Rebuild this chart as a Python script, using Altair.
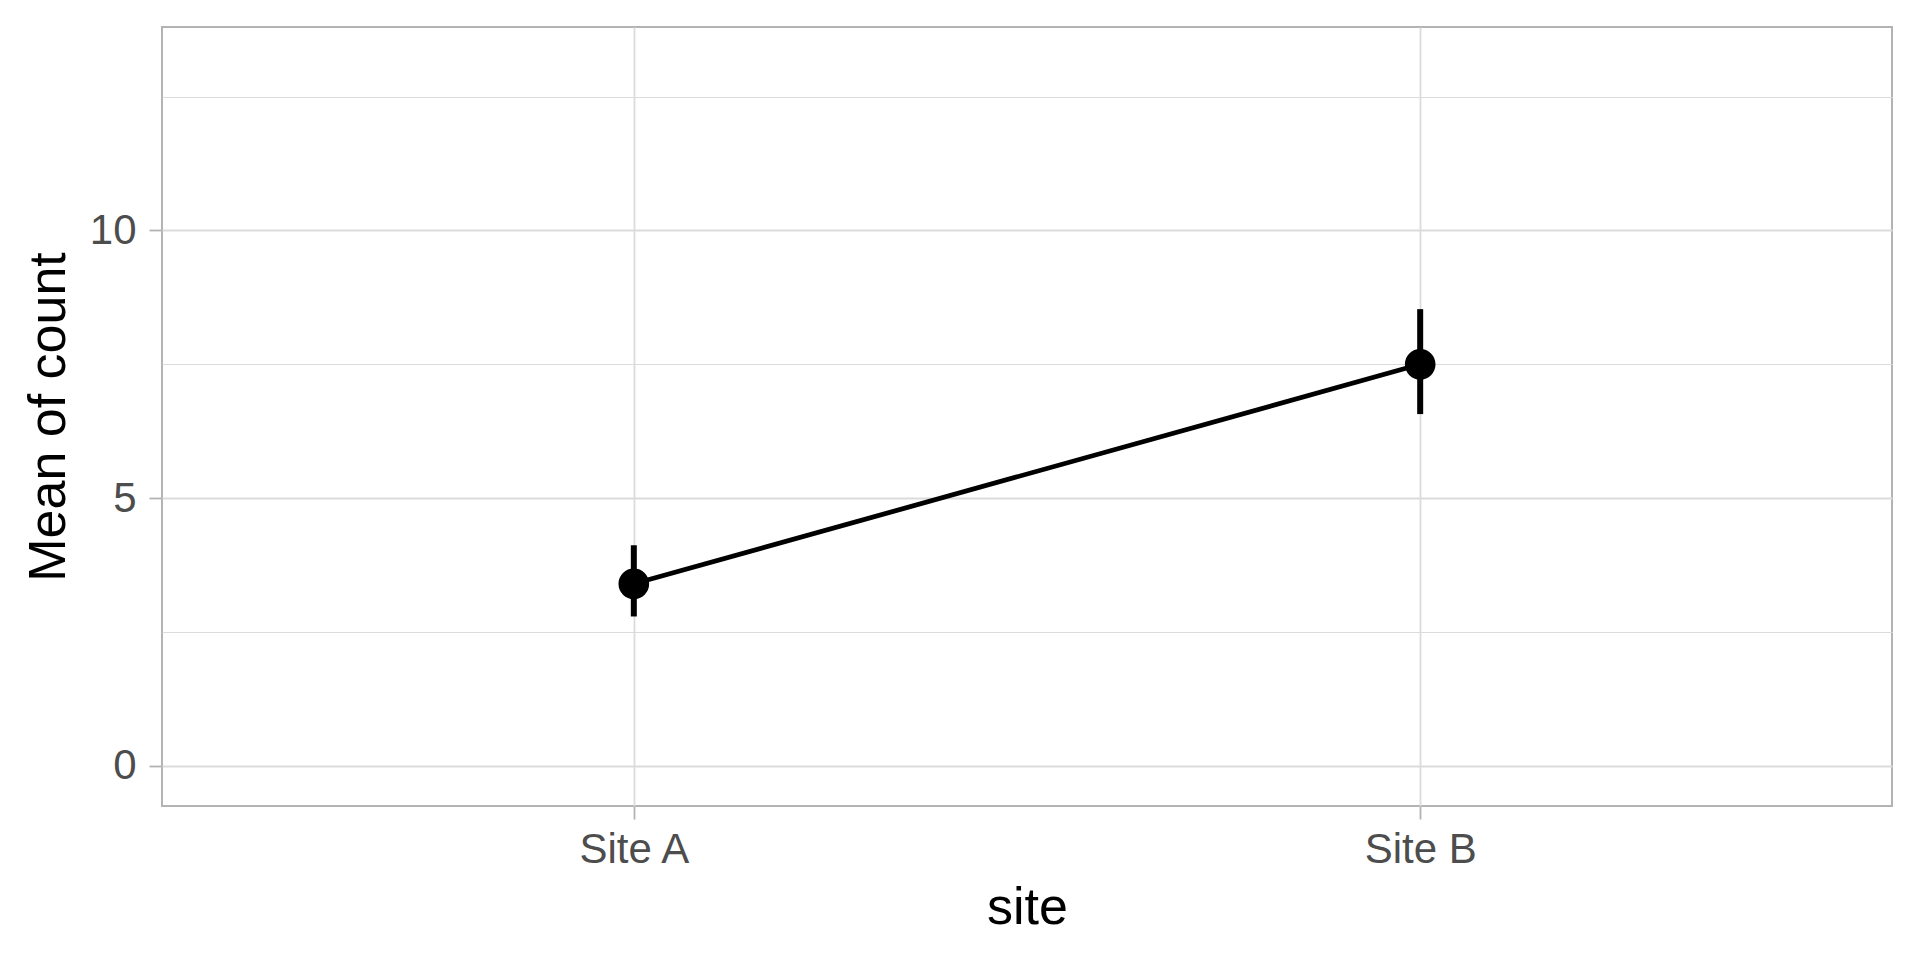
import altair as alt
import pandas as pd

# Data
sites = ["Site A", "Site B"]
means = [3.40, 7.50]
lower = [2.79, 6.57]
upper = [4.12, 8.53]
y_ticks = [0, 2.5, 5, 7.5, 10, 12.5]

df = pd.DataFrame({"site": sites, "mean": means, "lower": lower, "upper": upper})

FONT = "Liberation Sans"

x_enc = alt.X(
    "site:N",
    title="site",
    sort=sites,
    scale=alt.Scale(type="point", padding=0.6),
    axis=alt.Axis(
        labelAngle=0,
        labelFont=FONT,
        labelFontSize=42,
        labelColor="#4D4D4D",
        labelPadding=10,
        tickColor="#B3B3B3",
        tickWidth=1.8,
        tickSize=13,
        domain=False,
        grid=True,
        gridColor="#DBDBDB",
        gridWidth=1.8,
        titleFont=FONT,
        titleFontSize=52,
        titleFontWeight="normal",
        titleColor="#000000",
        titleBaseline="alphabetic",
        titleY=117,
    ),
)

y_scale = alt.Scale(domain=[-0.75, 13.8], nice=False, zero=False)
y_axis = alt.Axis(
    values=y_ticks,
    labelExpr="datum.value % 5 === 0 ? datum.label : ''",
    labelFont=FONT,
    labelFontSize=42,
    labelColor="#4D4D4D",
    labelPadding=13,
    tickColor="#B3B3B3",
    tickWidth=1.8,
    tickSize=13,
    tickOpacity={"condition": {"test": "datum.value % 5 === 0", "value": 1}, "value": 0},
    domain=False,
    grid=True,
    gridColor="#DBDBDB",
    gridWidth={"condition": {"test": "datum.value % 5 === 0", "value": 1.8}, "value": 1.0},
    titleFont=FONT,
    titleFontSize=52,
    titleFontWeight="normal",
    titleColor="#000000",
    titleAngle=270,
    titleBaseline="alphabetic",
    titleX=-98,
)

base = alt.Chart(df)

err = base.mark_rule(color="black", strokeWidth=6).encode(
    x=x_enc,
    y=alt.Y("lower:Q", title="Mean of count", scale=y_scale, axis=y_axis),
    y2="upper:Q",
)
line = base.mark_line(color="black", strokeWidth=4.8).encode(
    x=alt.X("site:N", sort=sites),
    y=alt.Y("mean:Q"),
)
pts = base.mark_circle(color="black", opacity=1, size=940).encode(
    x=alt.X("site:N", sort=sites),
    y=alt.Y("mean:Q"),
)

chart = (
    alt.layer(err, line, pts)
    .properties(
        width=1730,
        height=779,
        autosize=alt.AutoSizeParams(type="none"),
        padding={"left": 154, "top": 19, "right": 10, "bottom": 130},
        background="white",
    )
    .configure_view(stroke="#B3B3B3", strokeWidth=2)
)

chart.save("out.html", embed_options={"renderer": "svg", "actions": False})
